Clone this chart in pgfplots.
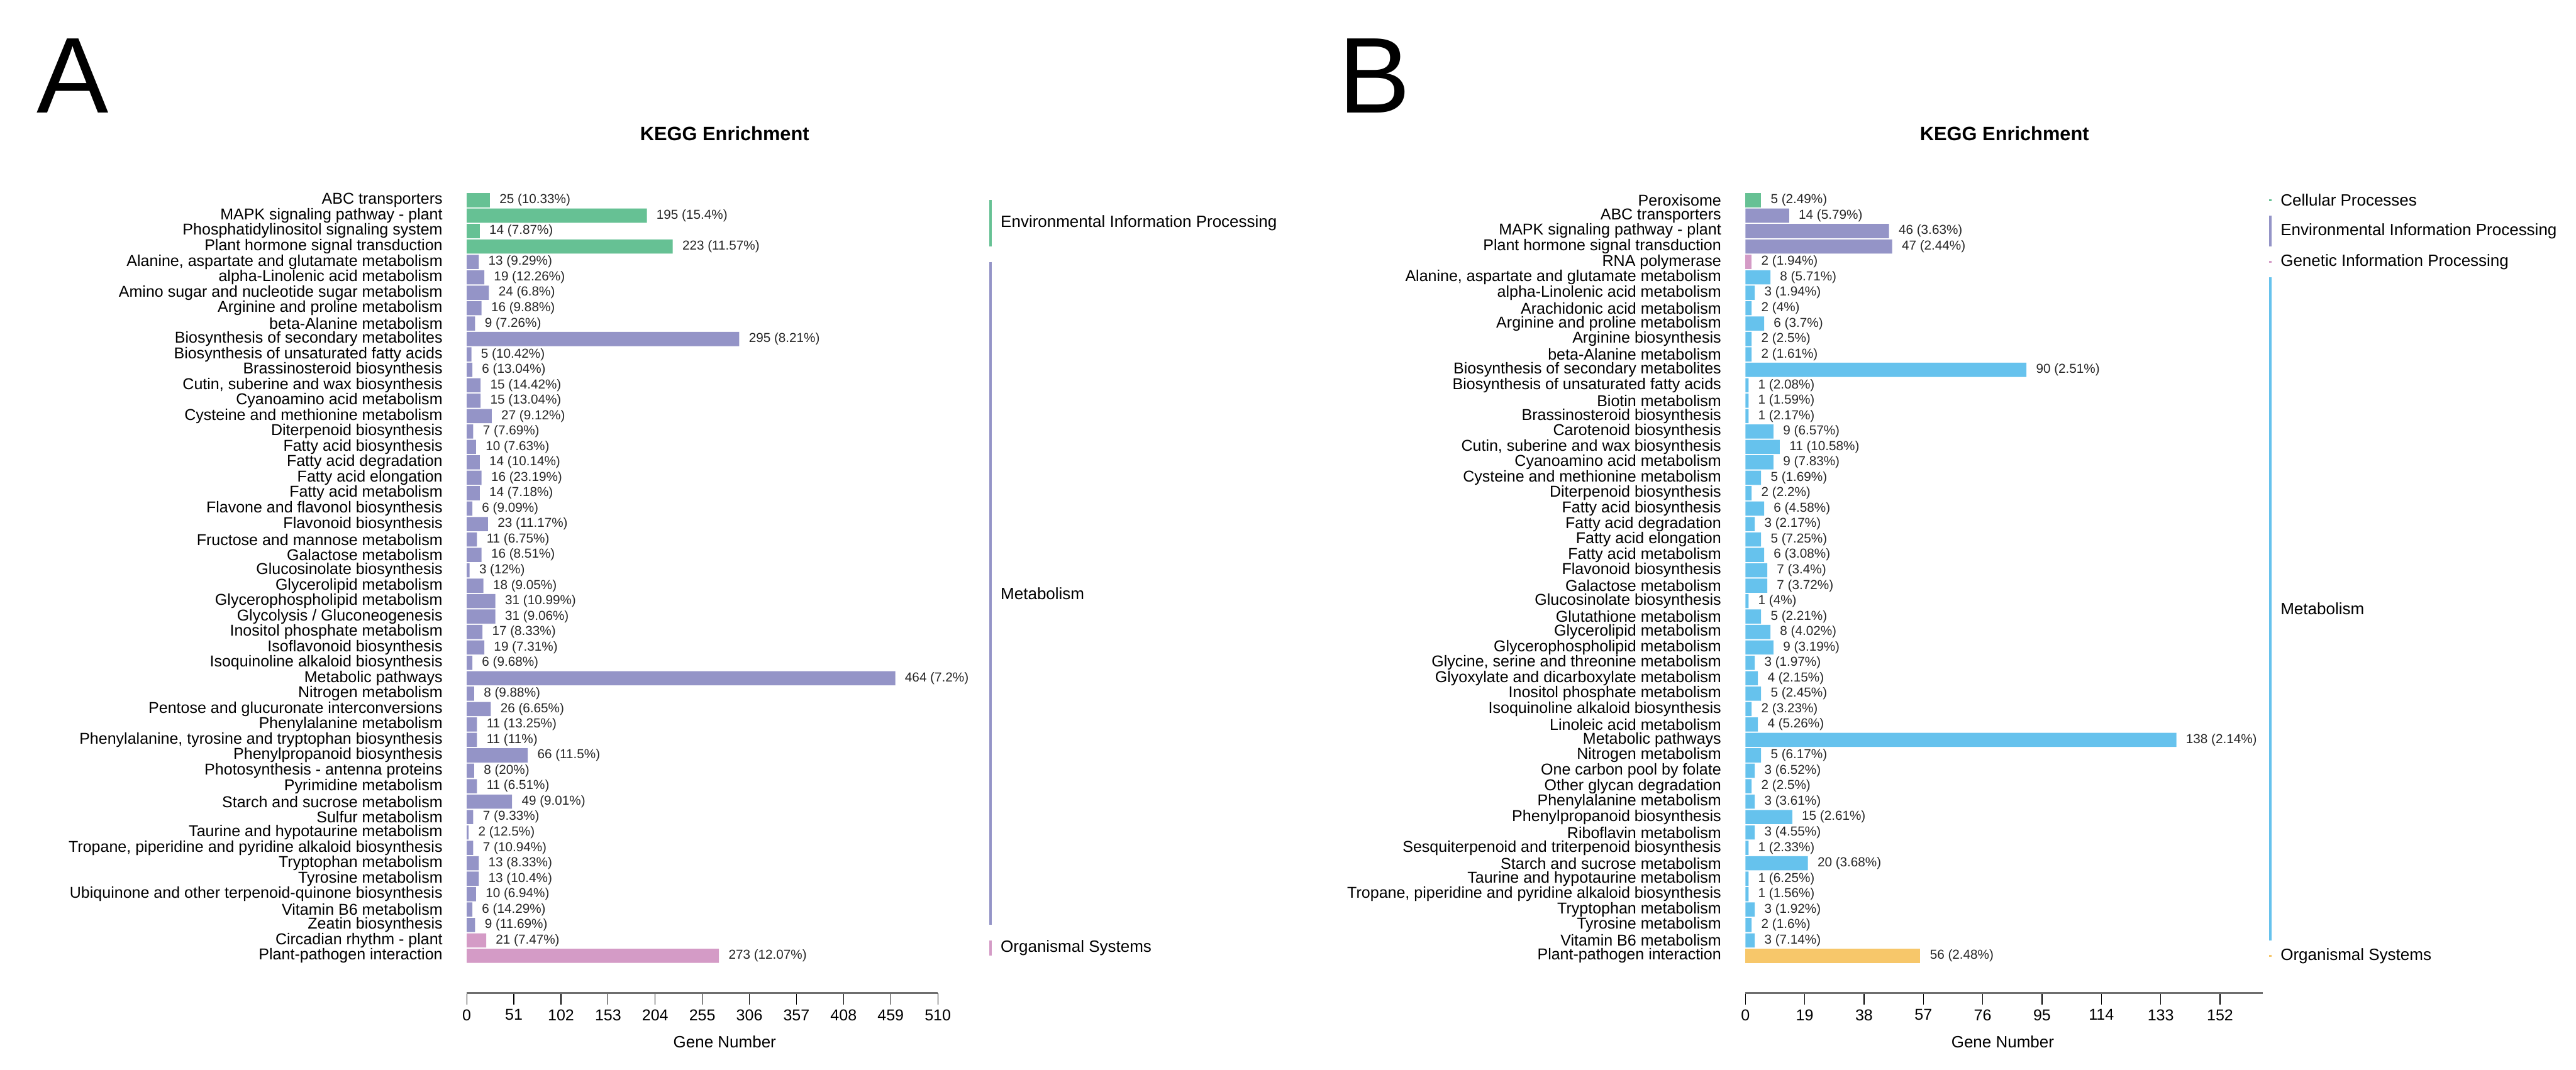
\documentclass[border=0pt]{standalone}
\usepackage{fontspec}
\setmainfont{Liberation Sans}
\usepackage{pgfplots}
\pgfplotsset{compat=1.18}
\definecolor{cgreen}{RGB}{102,193,148}
\definecolor{cpurple}{RGB}{148,148,199}
\definecolor{cpink}{RGB}{212,155,198}
\definecolor{cblue}{RGB}{102,194,237}
\definecolor{corange}{RGB}{247,199,106}
\definecolor{axgray}{RGB}{110,110,110}
\newcommand{\lblfont}{\fontsize{5.4}{6}\selectfont}
\newcommand{\catfont}{\fontsize{5.2}{6}\selectfont}
\newcommand{\valfont}{\fontsize{4.3}{5}\selectfont}
\newcommand{\tickfont}{\fontsize{5.2}{6}\selectfont}
\pgfplotsset{keggstyle/.style={
  xbar, bar shift=0pt, bar width=0.92,
  enlargelimits=false, clip=false,
  axis lines*=left,
  y axis line style={draw=none},
  x axis line style={draw=axgray, line width=0.6pt},
  ytick={0,...,49},
  every y tick/.append style={draw=none},
  every major y tick/.append style={draw=none},
  every major x tick/.append style={draw=black, line width=0.25pt},
  tick align=outside,
  major tick length=3.8pt,
  yticklabel style={font=\catfont, inner sep=0pt, xshift=-4pt, text=black},
  xticklabel style={font=\tickfont, inner sep=0pt, anchor=north, yshift=-1.4pt},
  /pgf/number format/assume math mode=true,
  point meta=explicit symbolic,
  nodes near coords,
  every node near coord/.append style={font=\valfont, inner sep=0pt, xshift=3pt, text=black!85, anchor=west},
  xmin=0, ymin=-2.42, ymax=49.6, y=5.096pt,
}}
\begin{document}
\begin{tikzpicture}
\useasboundingbox (0,0) rectangle (851pt,-353.6pt);
% panel letters and titles
\node[anchor=base west, inner sep=0pt, font=\fontsize{35.6}{36}\selectfont] at (12pt,-37.2pt) {A};
\node[anchor=base west, inner sep=0pt, font=\fontsize{35.6}{36}\selectfont] at (442pt,-37.2pt) {B};
\node[font=\fontsize{6.4}{7}\selectfont\bfseries] at (239.4pt,-44.2pt) {KEGG Enrichment};
\node[font=\fontsize{6.4}{7}\selectfont\bfseries] at (662.2pt,-44.2pt) {KEGG Enrichment};
\node[font=\lblfont] at (239.4pt,-344.4pt) {Gene Number};
\node[font=\lblfont] at (661.6pt,-344.4pt) {Gene Number};

% ---------------- Panel A ----------------
\begin{axis}[keggstyle, at={(154.2pt,-328.2pt)}, anchor=south west,
  x=0.3051pt, xmax=510, xtick={0,51,...,510},
  yticklabels={Plant-pathogen interaction, Circadian rhythm - plant, Zeatin biosynthesis, Vitamin B6 metabolism, Ubiquinone and other terpenoid-quinone biosynthesis, Tyrosine metabolism, Tryptophan metabolism, {Tropane, piperidine and pyridine alkaloid biosynthesis}, Taurine and hypotaurine metabolism, Sulfur metabolism, Starch and sucrose metabolism, Pyrimidine metabolism, Photosynthesis - antenna proteins, Phenylpropanoid biosynthesis, {Phenylalanine, tyrosine and tryptophan biosynthesis}, Phenylalanine metabolism, Pentose and glucuronate interconversions, Nitrogen metabolism, Metabolic pathways, Isoquinoline alkaloid biosynthesis, Isoflavonoid biosynthesis, Inositol phosphate metabolism, Glycolysis / Gluconeogenesis, Glycerophospholipid metabolism, Glycerolipid metabolism, Glucosinolate biosynthesis, Galactose metabolism, Fructose and mannose metabolism, Flavonoid biosynthesis, Flavone and flavonol biosynthesis, Fatty acid metabolism, Fatty acid elongation, Fatty acid degradation, Fatty acid biosynthesis, Diterpenoid biosynthesis, Cysteine and methionine metabolism, Cyanoamino acid metabolism, {Cutin, suberine and wax biosynthesis}, Brassinosteroid biosynthesis, Biosynthesis of unsaturated fatty acids, Biosynthesis of secondary metabolites, beta-Alanine metabolism, Arginine and proline metabolism, Amino sugar and nucleotide sugar metabolism, alpha-Linolenic acid metabolism, {Alanine, aspartate and glutamate metabolism}, Plant hormone signal transduction, Phosphatidylinositol signaling system, MAPK signaling pathway - plant, ABC transporters},
]
\addplot[fill=cgreen, draw=none] table[x=v, y=k, meta=lab, col sep=semicolon, row sep=\\] {
k;v;lab\\
49;25;25 (10.33\%)\\
48;195;195 (15.4\%)\\
47;14;14 (7.87\%)\\
46;223;223 (11.57\%)\\
};
\addplot[fill=cpurple, draw=none] table[x=v, y=k, meta=lab, col sep=semicolon, row sep=\\] {
k;v;lab\\
45;13;13 (9.29\%)\\
44;19;19 (12.26\%)\\
43;24;24 (6.8\%)\\
42;16;16 (9.88\%)\\
41;9;9 (7.26\%)\\
40;295;295 (8.21\%)\\
39;5;5 (10.42\%)\\
38;6;6 (13.04\%)\\
37;15;15 (14.42\%)\\
36;15;15 (13.04\%)\\
35;27;27 (9.12\%)\\
34;7;7 (7.69\%)\\
33;10;10 (7.63\%)\\
32;14;14 (10.14\%)\\
31;16;16 (23.19\%)\\
30;14;14 (7.18\%)\\
29;6;6 (9.09\%)\\
28;23;23 (11.17\%)\\
27;11;11 (6.75\%)\\
26;16;16 (8.51\%)\\
25;3;3 (12\%)\\
24;18;18 (9.05\%)\\
23;31;31 (10.99\%)\\
22;31;31 (9.06\%)\\
21;17;17 (8.33\%)\\
20;19;19 (7.31\%)\\
19;6;6 (9.68\%)\\
18;464;464 (7.2\%)\\
17;8;8 (9.88\%)\\
16;26;26 (6.65\%)\\
15;11;11 (13.25\%)\\
14;11;11 (11\%)\\
13;66;66 (11.5\%)\\
12;8;8 (20\%)\\
11;11;11 (6.51\%)\\
10;49;49 (9.01\%)\\
9;7;7 (9.33\%)\\
8;2;2 (12.5\%)\\
7;7;7 (10.94\%)\\
6;13;13 (8.33\%)\\
5;13;13 (10.4\%)\\
4;10;10 (6.94\%)\\
3;6;6 (14.29\%)\\
2;9;9 (11.69\%)\\
};
\addplot[fill=cpink, draw=none] table[x=v, y=k, meta=lab, col sep=semicolon, row sep=\\] {
k;v;lab\\
1;21;21 (7.47\%)\\
0;273;273 (12.07\%)\\
};
\draw[cgreen, line width=0.9pt] (axis cs:567,49) -- (axis cs:567,46);
\draw[cpurple, line width=0.9pt] (axis cs:567,45) -- (axis cs:567,2);
\draw[cpink, line width=0.9pt] (axis cs:567,1) -- (axis cs:567,0);
\node[anchor=west, inner sep=0pt, font=\lblfont] at (axis cs:577.5,47.5) {Environmental Information Processing};
\node[anchor=west, inner sep=0pt, font=\lblfont] at (axis cs:577.5,23.5) {Metabolism};
\node[anchor=west, inner sep=0pt, font=\lblfont] at (axis cs:577.5,0.5) {Organismal Systems};
\end{axis}

% ---------------- Panel B ----------------
\begin{axis}[keggstyle, at={(576.6pt,-328.2pt)}, anchor=south west,
  x=1.0316pt, xmax=165.6, xtick={0,19,...,152},
  yticklabels={Plant-pathogen interaction, Vitamin B6 metabolism, Tyrosine metabolism, Tryptophan metabolism, {Tropane, piperidine and pyridine alkaloid biosynthesis}, Taurine and hypotaurine metabolism, Starch and sucrose metabolism, Sesquiterpenoid and triterpenoid biosynthesis, Riboflavin metabolism, Phenylpropanoid biosynthesis, Phenylalanine metabolism, Other glycan degradation, One carbon pool by folate, Nitrogen metabolism, Metabolic pathways, Linoleic acid metabolism, Isoquinoline alkaloid biosynthesis, Inositol phosphate metabolism, Glyoxylate and dicarboxylate metabolism, {Glycine, serine and threonine metabolism}, Glycerophospholipid metabolism, Glycerolipid metabolism, Glutathione metabolism, Glucosinolate biosynthesis, Galactose metabolism, Flavonoid biosynthesis, Fatty acid metabolism, Fatty acid elongation, Fatty acid degradation, Fatty acid biosynthesis, Diterpenoid biosynthesis, Cysteine and methionine metabolism, Cyanoamino acid metabolism, {Cutin, suberine and wax biosynthesis}, Carotenoid biosynthesis, Brassinosteroid biosynthesis, Biotin metabolism, Biosynthesis of unsaturated fatty acids, Biosynthesis of secondary metabolites, beta-Alanine metabolism, Arginine biosynthesis, Arginine and proline metabolism, Arachidonic acid metabolism, alpha-Linolenic acid metabolism, {Alanine, aspartate and glutamate metabolism}, RNA polymerase, Plant hormone signal transduction, MAPK signaling pathway - plant, ABC transporters, Peroxisome},
]
\addplot[fill=cgreen, draw=none] table[x=v, y=k, meta=lab, col sep=semicolon, row sep=\\] {
k;v;lab\\
49;5;5 (2.49\%)\\
};
\addplot[fill=cpurple, draw=none] table[x=v, y=k, meta=lab, col sep=semicolon, row sep=\\] {
k;v;lab\\
48;14;14 (5.79\%)\\
47;46;46 (3.63\%)\\
46;47;47 (2.44\%)\\
};
\addplot[fill=cpink, draw=none] table[x=v, y=k, meta=lab, col sep=semicolon, row sep=\\] {
k;v;lab\\
45;2;2 (1.94\%)\\
};
\addplot[fill=cblue, draw=none] table[x=v, y=k, meta=lab, col sep=semicolon, row sep=\\] {
k;v;lab\\
44;8;8 (5.71\%)\\
43;3;3 (1.94\%)\\
42;2;2 (4\%)\\
41;6;6 (3.7\%)\\
40;2;2 (2.5\%)\\
39;2;2 (1.61\%)\\
38;90;90 (2.51\%)\\
37;1;1 (2.08\%)\\
36;1;1 (1.59\%)\\
35;1;1 (2.17\%)\\
34;9;9 (6.57\%)\\
33;11;11 (10.58\%)\\
32;9;9 (7.83\%)\\
31;5;5 (1.69\%)\\
30;2;2 (2.2\%)\\
29;6;6 (4.58\%)\\
28;3;3 (2.17\%)\\
27;5;5 (7.25\%)\\
26;6;6 (3.08\%)\\
25;7;7 (3.4\%)\\
24;7;7 (3.72\%)\\
23;1;1 (4\%)\\
22;5;5 (2.21\%)\\
21;8;8 (4.02\%)\\
20;9;9 (3.19\%)\\
19;3;3 (1.97\%)\\
18;4;4 (2.15\%)\\
17;5;5 (2.45\%)\\
16;2;2 (3.23\%)\\
15;4;4 (5.26\%)\\
14;138;138 (2.14\%)\\
13;5;5 (6.17\%)\\
12;3;3 (6.52\%)\\
11;2;2 (2.5\%)\\
10;3;3 (3.61\%)\\
9;15;15 (2.61\%)\\
8;3;3 (4.55\%)\\
7;1;1 (2.33\%)\\
6;20;20 (3.68\%)\\
5;1;1 (6.25\%)\\
4;1;1 (1.56\%)\\
3;3;3 (1.92\%)\\
2;2;2 (1.6\%)\\
1;3;3 (7.14\%)\\
};
\addplot[fill=corange, draw=none] table[x=v, y=k, meta=lab, col sep=semicolon, row sep=\\] {
k;v;lab\\
0;56;56 (2.48\%)\\
};
\draw[cgreen, line width=0.9pt] (axis cs:168.1,49.07) -- (axis cs:168.1,48.93);
\draw[cpurple, line width=0.9pt] (axis cs:168.1,48) -- (axis cs:168.1,46);
\draw[cpink, line width=0.9pt] (axis cs:168.1,45.07) -- (axis cs:168.1,44.93);
\draw[cblue, line width=0.9pt] (axis cs:168.1,44) -- (axis cs:168.1,1);
\draw[corange, line width=0.9pt] (axis cs:168.1,0.07) -- (axis cs:168.1,-0.07);
\node[anchor=west, inner sep=0pt, font=\lblfont] at (axis cs:171.2,49) {Cellular Processes};
\node[anchor=west, inner sep=0pt, font=\lblfont] at (axis cs:171.2,47) {Environmental Information Processing};
\node[anchor=west, inner sep=0pt, font=\lblfont] at (axis cs:171.2,45) {Genetic Information Processing};
\node[anchor=west, inner sep=0pt, font=\lblfont] at (axis cs:171.2,22.5) {Metabolism};
\node[anchor=west, inner sep=0pt, font=\lblfont] at (axis cs:171.2,0) {Organismal Systems};
\end{axis}
\end{tikzpicture}
\end{document}
